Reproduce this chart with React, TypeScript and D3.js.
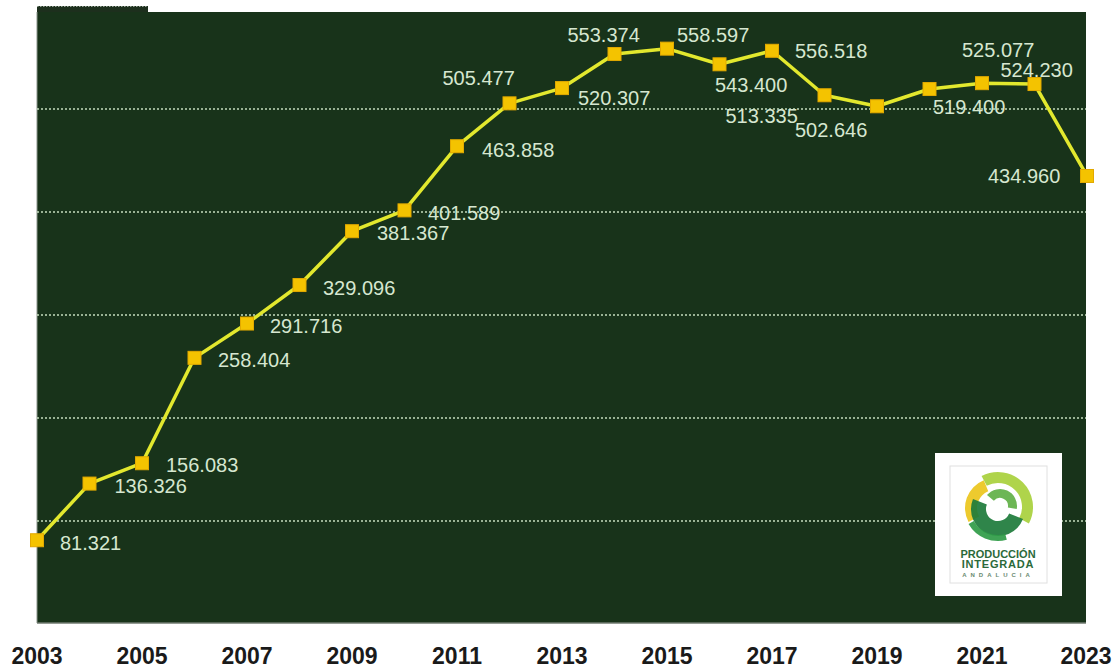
import * as d3 from "d3";

// superficie (ha) por campaña
const years = [
  2003, 2004, 2005, 2006, 2007, 2008, 2009, 2010, 2011, 2012, 2013, 2014,
  2015, 2016, 2017, 2018, 2019, 2020, 2021, 2022, 2023,
];
const values = [
  81.321, 136.326, 156.083, 258.404, 291.716, 329.096, 381.367, 401.589,
  463.858, 505.477, 520.307, 553.374, 558.597, 543.4, 556.518, 513.335,
  502.646, 519.4, 525.077, 524.23, 434.96,
];
const valueLabels = [
  "81.321", "136.326", "156.083", "258.404", "291.716", "329.096", "381.367",
  "401.589", "463.858", "505.477", "520.307", "553.374", "558.597", "543.400",
  "556.518", "513.335", "502.646", "519.400", "525.077", "524.230", "434.960",
];
const tickYears = [2003, 2005, 2007, 2009, 2011, 2013, 2015, 2017, 2019, 2021, 2023];
const gridValues = [100, 200, 300, 400, 500];

// label placement relative to each point (layout only)
const labelOffsets: [number, number][] = [
  [23, 10], [25, 9.5], [24, 9], [23.5, 9], [23, 9.5], [23.5, 10], [25, 9],
  [23.5, 9.5], [25, 11], [-67, -18], [16, 17], [-47, -12], [10, -6.5],
  [-4.5, 28], [23, 7], [-99, 28], [-82, 31], [3.5, 25], [-20, -26],
  [-34, -7], [-99, 7],
];

const W = 1117;
const H = 670;
const plot = { left: 37, right: 1086, top: 12, bottom: 623 };

const Logo = ({ x, y }: { x: number; y: number }) => {
  const cx = 63;
  const cy = 54;
  const arc = d3.arc();
  const deg = Math.PI / 180;
  const pieces = [
    { r0: 18, r1: 30, a0: -118, a1: -22, fill: "#ecc51c", dx: -3, dy: 1 },
    { r0: 24, r1: 35, a0: -28, a1: 118, fill: "#a8d03c", dx: 0, dy: 0 },
    { r0: 12, r1: 27, a0: 112, a1: 292, fill: "#1d7b3b", dx: 0, dy: 2 },
    { r0: 8, r1: 17, a0: -50, a1: 100, fill: "#61b046", dx: 2, dy: -1 },
    { r0: 28, r1: 34, a0: 165, a1: 240, fill: "#2f9b46", dx: 0, dy: 0 },
  ];
  return (
    <g transform={`translate(${x},${y})`}>
      <rect width={127} height={143} fill="#ffffff" />
      <rect x={15} y={13} width={97} height={117} fill="none" stroke="#e0e0e0" />
      {pieces.map((p, i) => (
        <path
          key={i}
          transform={`translate(${cx + p.dx},${cy + p.dy})`}
          d={
            arc({
              innerRadius: p.r0,
              outerRadius: p.r1,
              startAngle: p.a0 * deg,
              endAngle: p.a1 * deg,
            } as any) as string
          }
          fill={p.fill}
          opacity={0.92}
        />
      ))}
      <g fontFamily="Liberation Sans, Arial, sans-serif" fontWeight="bold" fill="#2b6a3a" textAnchor="middle">
        <text x={cx} y={105} fontSize={11}>PRODUCCIÓN</text>
        <text x={cx} y={115} fontSize={11} letterSpacing={0.8}>INTEGRADA</text>
        <text x={cx} y={124} fontSize={6} letterSpacing={4} fill="#6a8a70">ANDALUCIA</text>
      </g>
    </g>
  );
};

export default function App() {
  const x = d3.scaleLinear().domain([2003, 2023]).range([37, 1087]);
  const y = d3.scaleLinear().domain([0, 600]).range([624, 6]);
  const pts = years.map((yr, i) => [x(yr), y(values[i])] as [number, number]);
  const line = d3.line<[number, number]>();

  return (
    <div style={{ position: "absolute", left: 0, top: 0 }}>
      <svg width={W} height={H} style={{ display: "block", background: "#ffffff" }}>
        <rect x={plot.left} y={6} width={111} height={7} fill="#1d2f1d" />
        <line x1={plot.left} x2={148} y1={6.5} y2={6.5} stroke="#9aa89a" strokeDasharray="1.5 1.5" />
        <rect
          x={plot.left}
          y={plot.top}
          width={plot.right - plot.left}
          height={plot.bottom - plot.top}
          fill="#18331a"
        />
        <line x1={plot.left} x2={plot.left} y1={plot.top} y2={plot.bottom} stroke="#8a948a" strokeWidth={1} />
        <line x1={plot.left} x2={plot.right} y1={plot.bottom} y2={plot.bottom} stroke="#6f7a6f" strokeWidth={1.5} />
        {gridValues.map((g) => (
          <line
            key={g}
            x1={plot.left}
            x2={plot.right}
            y1={y(g)}
            y2={y(g)}
            stroke="#c4ddbd"
            strokeWidth={1.6}
            strokeDasharray="2 2"
          />
        ))}
        <Logo x={935} y={453} />
        <path d={line(pts) as string} fill="none" stroke="#e2e82e" strokeWidth={3.5} strokeLinejoin="round" />
        {pts.map(([px, py], i) => (
          <rect
            key={years[i]}
            x={px - 6.5}
            y={py - 6.5}
            width={13}
            height={13}
            fill="#f4c300"
            stroke="#e2a900"
            strokeWidth={1}
          />
        ))}
        <g fontFamily="Liberation Sans, Arial, sans-serif" fontSize={20} fill="#d6e7d0">
          {pts.map(([px, py], i) => (
            <text key={years[i]} x={px + labelOffsets[i][0]} y={py + labelOffsets[i][1]}>
              {valueLabels[i]}
            </text>
          ))}
        </g>
        <g fontFamily="Liberation Sans, Arial, sans-serif" fontSize={23} fontWeight="bold" fill="#1a1a1a" textAnchor="middle">
          {tickYears.map((t) => (
            <text key={t} x={Math.min(x(t), 1086)} y={664}>
              {t}
            </text>
          ))}
        </g>
      </svg>
    </div>
  );
}
